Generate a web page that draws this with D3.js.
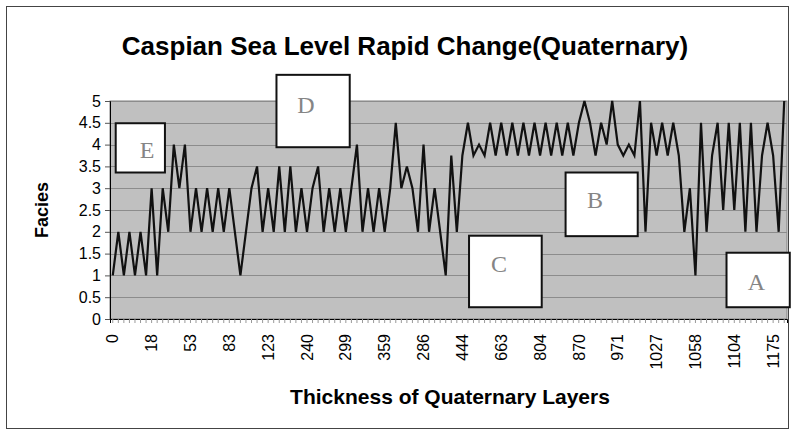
<!DOCTYPE html>
<html lang="en">
<head>
<meta charset="utf-8">
<title>Caspian Sea Level Rapid Change</title>
<script src="https://cdn.jsdelivr.net/npm/d3@7"></script>
<style>
  body { margin: 0; background: #fff; }
  svg { display: block; }
  .tick text { font-family: "Liberation Sans", Arial, sans-serif; font-size: 16px; fill: #000; }
  .box-letter { font-family: "Liberation Serif", "Times New Roman", serif; font-size: 24px; fill: #858585; }
</style>
</head>
<body>
<script>
// facies value for each sampled layer, in order
var facies = [
  1, 2, 1, 2, 1, 2, 1, 3, 1, 3, 2, 4, 3, 4, 2, 3, 2, 3, 2, 3, 2, 3,
  2, 1, 2, 3, 3.5, 2, 3, 2, 3.5, 2, 3.5, 2, 3, 2, 3, 3.5, 2, 3, 2, 3,
  2, 3, 4, 2, 3, 2, 3, 2, 3, 4.5, 3, 3.5, 3, 2, 4, 2, 3, 2, 1, 3.75,
  2, 3.75, 4.5, 3.75, 4, 3.75, 4.5, 3.75, 4.5, 3.75, 4.5, 3.75, 4.5, 3.75, 4.5, 3.75,
  4.5, 3.75, 4.5, 3.75, 4.5, 3.75, 4.5, 5, 4.5, 3.75, 4.5, 4, 5, 4, 3.75, 4,
  3.75, 5, 2, 4.5, 3.75, 4.5, 3.75, 4.5, 3.75, 2, 3, 1, 4.5, 2, 3.75, 4.5,
  2.5, 4.5, 2.5, 4.5, 2, 4.5, 2, 3.75, 4.5, 3.75, 2, 5
];
// thickness labels shown on the axis (every 7th layer)
var thicknessLabels = ["0", "18", "53", "83", "123", "240", "299", "359", "286",
  "444", "663", "804", "870", "971", "1027", "1058", "1104", "1175"];
var labelStep = 7;
var yTicks = [0, 0.5, 1, 1.5, 2, 2.5, 3, 3.5, 4, 4.5, 5];

// lettered boxes, in layer-index / facies units
var boxLetters = ["E", "D", "C", "B", "A"];
var boxLayerFrom = [1.03, 30.0, 64.7, 82.1, 111.1];
var boxLayerTo = [9.9, 43.2, 77.8, 95.1, 122.5];
var boxTop = [4.49, 5.6, 1.91, 3.36, 1.52];
var boxBottom = [3.36, 3.94, 0.27, 1.9, 0.27];
var letterLayer = [6.7, 35.3, 70.1, 87.4, 116.5];
var letterFacies = [3.88, 4.91, 1.27, 2.72, 0.86];

var w = 794, h = 436;
var plot = { left: 110, right: 787, top: 101, bottom: 319 };

var svg = d3.select("body").append("svg")
  .attr("width", w)
  .attr("height", h);

// outer chart frame
svg.append("rect")
  .attr("x", 6.5).attr("y", 6.5)
  .attr("width", 782).attr("height", 422)
  .attr("fill", "#fff")
  .attr("stroke", "#444")
  .attr("stroke-width", 1);

var xScale = d3.scaleBand()
  .domain(d3.range(facies.length))
  .range([plot.left, plot.right]);

var yScale = d3.scaleLinear()
  .domain([0, 5])
  .range([plot.bottom, plot.top]);

var cx = function(i) { return xScale(i) + xScale.bandwidth() / 2; };
var layerX = function(v) { return plot.left + v * xScale.step(); };

// plot area
svg.append("rect")
  .attr("x", plot.left).attr("y", plot.top)
  .attr("width", plot.right - plot.left)
  .attr("height", plot.bottom - plot.top)
  .attr("fill", "#c0c0c0")
  .attr("stroke", "#808080");

// gridlines
svg.append("g")
  .selectAll("line")
  .data(yTicks.slice(1))
  .enter()
  .append("line")
  .attr("x1", plot.left).attr("x2", plot.right)
  .attr("y1", function(d) { return Math.round(yScale(d)) + 0.5; })
  .attr("y2", function(d) { return Math.round(yScale(d)) + 0.5; })
  .attr("stroke", "#8c8c8c")
  .attr("stroke-width", 1);

// y axis
var yAxis = d3.axisLeft(yScale)
  .tickValues(yTicks)
  .tickFormat(d3.format("~g"))
  .tickSize(5)
  .tickPadding(4);

svg.append("g")
  .attr("class", "axis")
  .attr("transform", "translate(" + plot.left + ",0)")
  .call(yAxis)
  .call(function(g) {
    g.select(".domain").attr("stroke", "#000");
    g.selectAll(".tick line").attr("stroke", "#555");
  });

// x axis: small tick on every layer, label on every 7th
var xAxis = d3.axisBottom(xScale)
  .tickSize(4)
  .tickFormat(function(d) {
    return d % labelStep === 0 ? thicknessLabels[d / labelStep] : "";
  });

svg.append("g")
  .attr("class", "axis")
  .attr("transform", "translate(0," + plot.bottom + ")")
  .call(xAxis)
  .call(function(g) {
    g.select(".domain").attr("stroke", "#000");
    g.selectAll(".tick line").attr("stroke", "#999");
    g.selectAll(".tick text")
      .attr("transform", "rotate(-90)")
      .attr("text-anchor", "end")
      .attr("x", -15)
      .attr("y", 0)
      .attr("dy", "0.35em");
  });

// facies line
var line = d3.line()
  .x(function(d, i) { return cx(i); })
  .y(function(d) { return yScale(d); });

svg.append("path")
  .datum(facies)
  .attr("d", line)
  .attr("fill", "none")
  .attr("stroke", "#111")
  .attr("stroke-width", 2.2)
  .attr("stroke-linejoin", "miter");

// lettered boxes
var boxes = svg.append("g")
  .selectAll("g")
  .data(boxLetters)
  .enter()
  .append("g");

boxes.append("rect")
  .attr("x", function(d, i) { return layerX(boxLayerFrom[i]); })
  .attr("y", function(d, i) { return yScale(boxTop[i]); })
  .attr("width", function(d, i) { return (boxLayerTo[i] - boxLayerFrom[i]) * xScale.step(); })
  .attr("height", function(d, i) { return yScale(boxBottom[i]) - yScale(boxTop[i]); })
  .attr("fill", "#fff")
  .attr("stroke", "#111")
  .attr("stroke-width", 2);

boxes.append("text")
  .attr("class", "box-letter")
  .attr("x", function(d, i) { return layerX(letterLayer[i]); })
  .attr("y", function(d, i) { return yScale(letterFacies[i]) + 8; })
  .attr("text-anchor", "middle")
  .text(function(d) { return d; });

// titles
svg.append("text")
  .attr("x", 405).attr("y", 55)
  .attr("text-anchor", "middle")
  .style("font-family", "'Liberation Sans', Arial, sans-serif")
  .style("font-weight", "bold")
  .style("font-size", "26px")
  .text("Caspian Sea Level Rapid Change(Quaternary)");

svg.append("text")
  .attr("transform", "translate(48," + ((plot.top + plot.bottom) / 2) + ") rotate(-90)")
  .attr("text-anchor", "middle")
  .style("font-family", "'Liberation Sans', Arial, sans-serif")
  .style("font-weight", "bold")
  .style("font-size", "18px")
  .text("Facies");

svg.append("text")
  .attr("x", 450).attr("y", 404)
  .attr("text-anchor", "middle")
  .style("font-family", "'Liberation Sans', Arial, sans-serif")
  .style("font-weight", "bold")
  .style("font-size", "21px")
  .text("Thickness of Quaternary Layers");
</script>
</body>
</html>
